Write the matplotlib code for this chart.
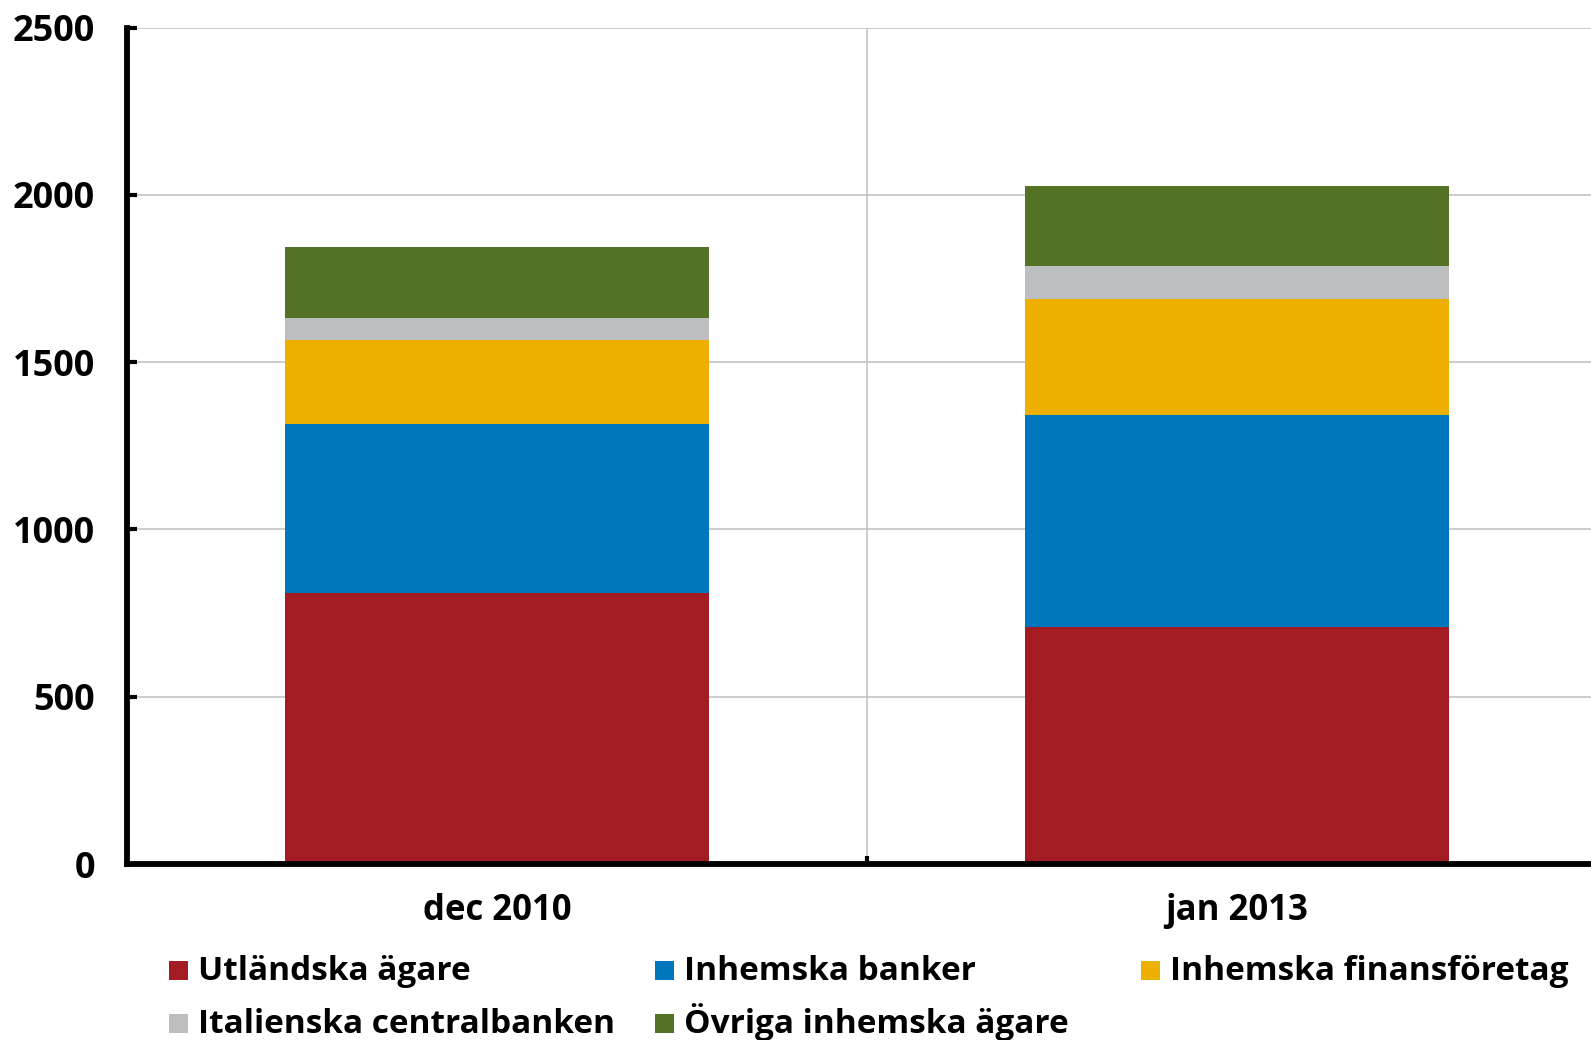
import matplotlib.pyplot as plt
from matplotlib.patches import Rectangle

plt.rcParams['font.family'] = ['Open Sans', 'DejaVu Sans']
plt.rcParams['font.weight'] = 'bold'

categories = ['dec 2010', 'jan 2013']
series_names = ['Utländska ägare', 'Inhemska banker', 'Inhemska finansföretag',
                'Italienska centralbanken', 'Övriga inhemska ägare']
utlandska = [811, 709]
inhemska_banker = [504, 632]
finansforetag = [250, 349]
italienska_cb = [68, 98]
ovriga = [212, 237]
colors = ['#A31C24', '#0077BD', '#EDAF00', '#BDBEC0', '#547223']

series = [utlandska, inhemska_banker, finansforetag, italienska_cb, ovriga]

W, H = 1591, 1040
fig = plt.figure(figsize=(W / 100, H / 100), dpi=100)
ax = fig.add_axes([127 / W, 1 - 864 / H, (1607 - 127) / W, (864 - 27.5) / H])

x = list(range(len(categories)))
bottom = [0] * len(categories)
for vals, col, name in zip(series, colors, series_names):
    ax.bar(x, vals, width=0.573, bottom=bottom, color=col, label=name, zorder=2, linewidth=0)
    bottom = [b + v for b, v in zip(bottom, vals)]

ax.set_xlim(-0.5, 1.5)
ax.set_ylim(0, 2500)
ax.set_yticks(range(0, 2501, 500))
ax.set_xticks(x)
ax.set_xticklabels(categories)
ax.set_xticks([0.5, 1.5], minor=True)

ax.grid(axis='y', which='major', color='#c8c8c8', linewidth=1.3, zorder=0)
ax.grid(axis='x', which='minor', color='#c8c8c8', linewidth=1.3, zorder=0)
ax.set_axisbelow(True)

for s in ['top', 'right']:
    ax.spines[s].set_visible(False)
for s in ['left', 'bottom']:
    ax.spines[s].set_linewidth(4.2)
    ax.spines[s].set_zorder(3)

ax.tick_params(axis='y', direction='in', length=7, width=3, labelsize=26, pad=23)
ax.tick_params(axis='x', which='major', length=0, labelsize=25, pad=21)
ax.tick_params(axis='x', which='minor', direction='in', length=6, width=3)
for lbl in ax.get_xticklabels() + ax.get_yticklabels():
    lbl.set_fontweight('bold')

# legend, two rows x three columns, laid out in figure pixels
col_x = [169, 655, 1141]
row_base = [980, 1033]
sq = 19
for i, (name, col) in enumerate(zip(series_names, colors)):
    r, c = divmod(i, 3)
    x0, yb = col_x[c], row_base[r]
    fig.add_artist(Rectangle((x0 / W, 1 - yb / H), sq / W, sq / H,
                             transform=fig.transFigure, facecolor=col, edgecolor='none'))
    fig.text((x0 + sq + 10) / W, 1 - yb / H, name, fontsize=24, fontweight='bold',
             va='baseline', ha='left')

fig.savefig('out.png', dpi=100)
